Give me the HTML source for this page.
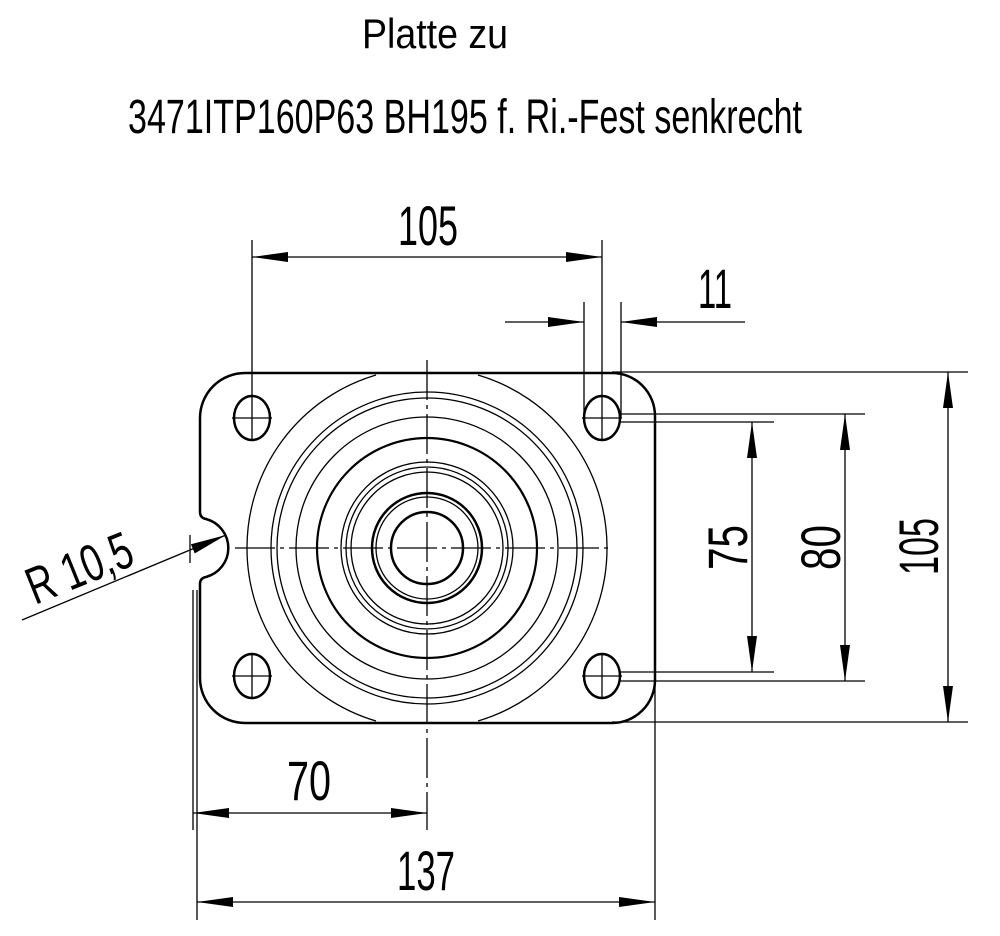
<!DOCTYPE html>
<html><head><meta charset="utf-8"><style>
html,body{margin:0;padding:0;background:#fff}
svg{display:block}
text{font-family:"Liberation Sans",sans-serif;fill:#000}
</style></head><body>
<svg width="1000" height="936" viewBox="0 0 1000 936" xmlns="http://www.w3.org/2000/svg">
<defs>
<marker id="a" viewBox="0 0 36 10" refX="36" refY="5" markerWidth="36" markerHeight="10" markerUnits="userSpaceOnUse" orient="auto-start-reverse">
<path d="M0,0 L36,5 L0,10 Z" fill="#000"/>
</marker>
</defs>
<text x="362" y="48" font-size="42" textLength="146" lengthAdjust="spacingAndGlyphs">Platte zu</text>
<text x="128" y="133" font-size="48" textLength="674" lengthAdjust="spacingAndGlyphs">3471ITP160P63 BH195 f. Ri.-Fest senkrecht</text>

<g stroke="#000" fill="none">
<path d="M245,373 L612,373 A43,43 0 0 1 655,416 L655,680 A43,43 0 0 1 612,723 L245,723 A45,45 0 0 1 200,678 L200,584 Q200,578 206,577 A30,30 0 0 0 206,519 Q200,518 200,512 L200,418 A45,45 0 0 1 245,373 Z" stroke-width="2.5"/>
<ellipse cx="252" cy="418" rx="18" ry="22" stroke-width="2.5"/>
<ellipse cx="602" cy="418" rx="18" ry="22" stroke-width="2.5"/>
<ellipse cx="252" cy="676" rx="18" ry="22" stroke-width="2.5"/>
<ellipse cx="602" cy="676" rx="18" ry="22" stroke-width="2.5"/>
<g stroke-width="1.3">
<line x1="232" y1="418" x2="272" y2="418"/><line x1="252" y1="396" x2="252" y2="440"/>
<line x1="582" y1="418" x2="622" y2="418"/>
<line x1="232" y1="676" x2="272" y2="676"/><line x1="252" y1="654" x2="252" y2="698"/>
<line x1="582" y1="676" x2="622" y2="676"/><line x1="602" y1="654" x2="602" y2="698"/>
</g>
<g stroke-width="1.3">
<path d="M376,375 A180,180 0 0 0 247,548 A180,180 0 0 0 376,721 M478,375 A180,180 0 0 1 607,548 A180,180 0 0 1 478,721"/>
<circle cx="427" cy="548" r="156"/>
<circle cx="427" cy="548" r="150"/>
<circle cx="427" cy="548" r="131"/>
<circle cx="427" cy="548" r="86"/>
<circle cx="427" cy="548" r="81"/>
<circle cx="427" cy="548" r="76"/>
<circle cx="427" cy="548" r="51"/>
</g>
<circle cx="427" cy="548" r="110" stroke-width="2.2"/>
<circle cx="427" cy="548" r="55" stroke-width="2.5"/>
<circle cx="427" cy="548" r="36" stroke-width="2.5"/>
<g stroke-width="1.3">
<line x1="427" y1="360" x2="427" y2="830" stroke-dasharray="40,5,4,5"/>
<line x1="235" y1="548" x2="612" y2="548" stroke-dasharray="40,5,4,5"/>
</g>
<g stroke-width="1.3">
<line x1="252" y1="240" x2="252" y2="396"/>
<line x1="602" y1="240" x2="602" y2="440"/>
<line x1="584" y1="302" x2="584" y2="418"/>
<line x1="621" y1="302" x2="621" y2="418"/>
<line x1="612" y1="372" x2="968" y2="372"/>
<line x1="620" y1="414" x2="865" y2="414"/>
<line x1="620" y1="422" x2="774" y2="422"/>
<line x1="620" y1="672" x2="774" y2="672"/>
<line x1="620" y1="681" x2="865" y2="681"/>
<line x1="612" y1="722" x2="968" y2="722"/>
<line x1="193" y1="590" x2="193" y2="830"/>
<line x1="197" y1="590" x2="197" y2="920"/>
<line x1="655" y1="680" x2="655" y2="920"/>
<line x1="190" y1="535" x2="190" y2="563"/>
</g>
<g stroke-width="1.3">
<line x1="252" y1="257" x2="602" y2="257" marker-start="url(#a)" marker-end="url(#a)"/>
<line x1="505" y1="322" x2="584" y2="322" marker-end="url(#a)"/>
<line x1="745" y1="322" x2="621" y2="322" marker-end="url(#a)"/>
<line x1="752" y1="422" x2="752" y2="672" marker-start="url(#a)" marker-end="url(#a)"/>
<line x1="845" y1="414" x2="845" y2="681" marker-start="url(#a)" marker-end="url(#a)"/>
<line x1="948" y1="372" x2="948" y2="722" marker-start="url(#a)" marker-end="url(#a)"/>
<line x1="193" y1="813" x2="427" y2="813" marker-start="url(#a)" marker-end="url(#a)"/>
<line x1="197" y1="902" x2="655" y2="902" marker-start="url(#a)" marker-end="url(#a)"/>
<line x1="22" y1="620" x2="226" y2="535" marker-end="url(#a)"/>
</g>
</g>
<text x="398" y="245" font-size="56" textLength="60" lengthAdjust="spacingAndGlyphs">105</text>
<text x="698" y="308" font-size="56" textLength="34" lengthAdjust="spacingAndGlyphs">11</text>
<text x="287" y="800" font-size="56" textLength="44" lengthAdjust="spacingAndGlyphs">70</text>
<text x="397" y="890" font-size="56" textLength="58" lengthAdjust="spacingAndGlyphs">137</text>
<text transform="translate(747,570) rotate(-90)" font-size="56" textLength="45" lengthAdjust="spacingAndGlyphs">75</text>
<text transform="translate(840,570) rotate(-90)" font-size="56" textLength="45" lengthAdjust="spacingAndGlyphs">80</text>
<text transform="translate(938,575) rotate(-90)" font-size="56" textLength="57" lengthAdjust="spacingAndGlyphs">105</text>
<text transform="translate(35,605) rotate(-22)" font-size="52" textLength="110" lengthAdjust="spacingAndGlyphs">R 10,5</text>
</svg>
</body></html>
